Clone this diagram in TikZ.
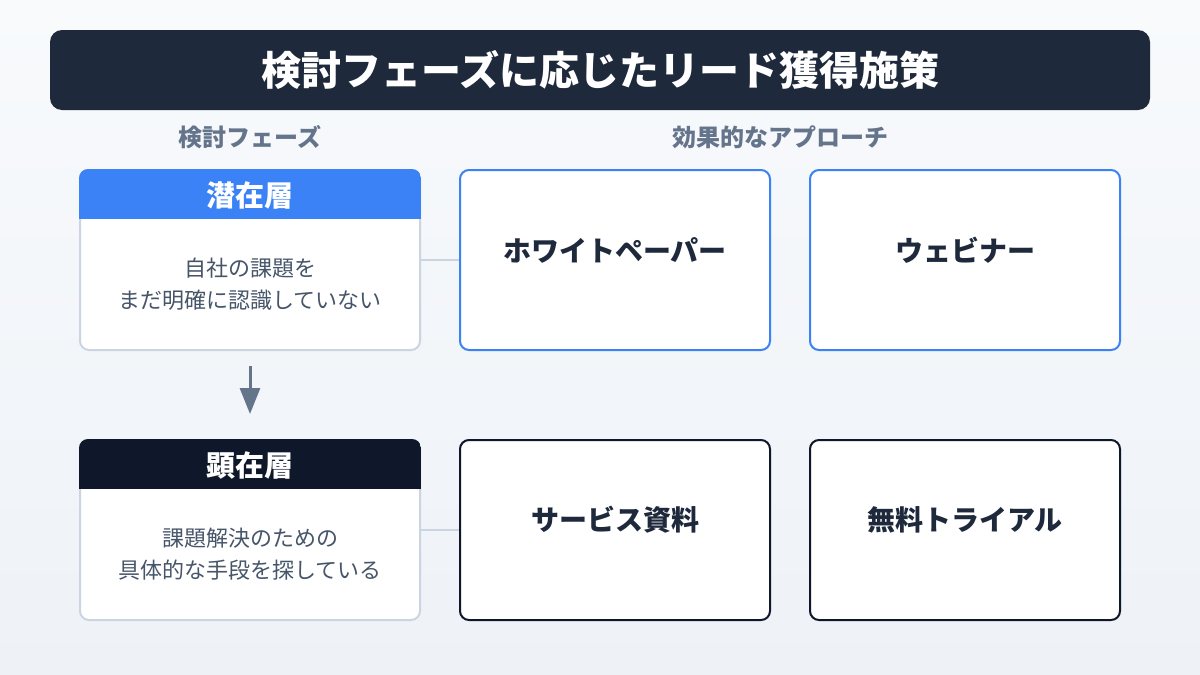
\documentclass[tikz,border=0pt]{standalone}
\usepackage{fontspec}
\newfontfamily\jp{Noto Sans CJK JP}
\usetikzlibrary{arrows.meta,positioning,shadings}

\definecolor{bgtop}{HTML}{F8FAFC}
\definecolor{bgbottom}{HTML}{EEF2F7}
\definecolor{navy}{HTML}{1E293B}
\definecolor{ink}{HTML}{0F172A}
\definecolor{accent}{HTML}{3B82F6}
\definecolor{slate}{HTML}{64748B}
\definecolor{bodytext}{HTML}{475569}
\definecolor{edge}{HTML}{CBD5E1}

\tikzset{
  phasebox/.style={draw=edge, line width=2pt, fill=white, rounded corners=9pt,
    minimum width=340pt, minimum height=180pt, inner sep=0pt},
  approachbox/.style={line width=2pt, fill=white, rounded corners=9pt,
    minimum width=310pt, minimum height=180pt, inner sep=0pt},
  colhead/.style={text=slate, font=\jp\bfseries\fontsize{24}{28}\selectfont},
  phasetitle/.style={text=white, font=\jp\bfseries\fontsize{29}{32}\selectfont},
  phasebody/.style={text=bodytext, align=center, font=\jp\fontsize{22}{32}\selectfont},
  approachlabel/.style={text=navy, font=\jp\bfseries\fontsize{28}{32}\selectfont},
  link/.style={draw=edge, line width=1.5pt}
}

\begin{document}
\begin{tikzpicture}[x=1pt,y=-1pt]
    % Background
    \shade[upper left=bgtop, upper right=bgtop, lower left=bgbottom, lower right=bgbottom]
      (0,0) rectangle (1200,675);
    \useasboundingbox (0,0) rectangle (1200,675);

    % Title bar
    \node[fill=navy, rounded corners=12pt, minimum width=1100pt, minimum height=80pt,
      text=white, font=\jp\bfseries\fontsize{40}{44}\selectfont] (title) at (600,70)
      {検討フェーズに応じたリード獲得施策};

    % Column headings
    \node[colhead] (phasehead) at (250,137) {検討フェーズ};
    \node[colhead] (approachhead) at (780,137) {効果的なアプローチ};

    % Phase boxes with coloured header strip
    \foreach \name/\ypos/\col in {latent/260/accent, overt/530/ink} {
        \node[phasebox] (\name) at (250,\ypos) {};
        \begin{scope}
            \clip[rounded corners=9pt] (\name.north west) rectangle (\name.south east);
            \fill[\col] (\name.north west) rectangle ([yshift=-50pt]\name.north east);
        \end{scope}
    }

    \node[phasetitle] (latenttitle) at (250,195) {潜在層};
    \node[phasebody] (latentbody) at (250,284) {自社の課題を\\まだ明確に認識していない};
    \node[phasetitle] (overttitle) at (250,465) {顕在層};
    \node[phasebody] (overtbody) at (250,554) {課題解決のための\\具体的な手段を探している};

    % Approach boxes
    \foreach \name/\xpos/\ypos/\col/\label in {%
      whitepaper/615/260/accent/ホワイトペーパー,%
      webinar/965/260/accent/ウェビナー,%
      brochure/615/530/ink/サービス資料,%
      trial/965/530/ink/無料トライアル%
    } {
        \node[approachbox, draw=\col] (\name) at (\xpos,\ypos) {};
        \node[approachlabel] at (\xpos,\ypos-10) {\label};
    }

    % Connectors
    \draw[link] (latent.east) -- (whitepaper.west);
    \draw[link] (overt.east) -- (brochure.west);
    \draw[draw=slate, line width=3pt, -{Triangle[length=26pt, width=20pt]}]
      ([yshift=-15pt]latent.south) -- ([yshift=25pt]overt.north);

\end{tikzpicture}
\end{document}
